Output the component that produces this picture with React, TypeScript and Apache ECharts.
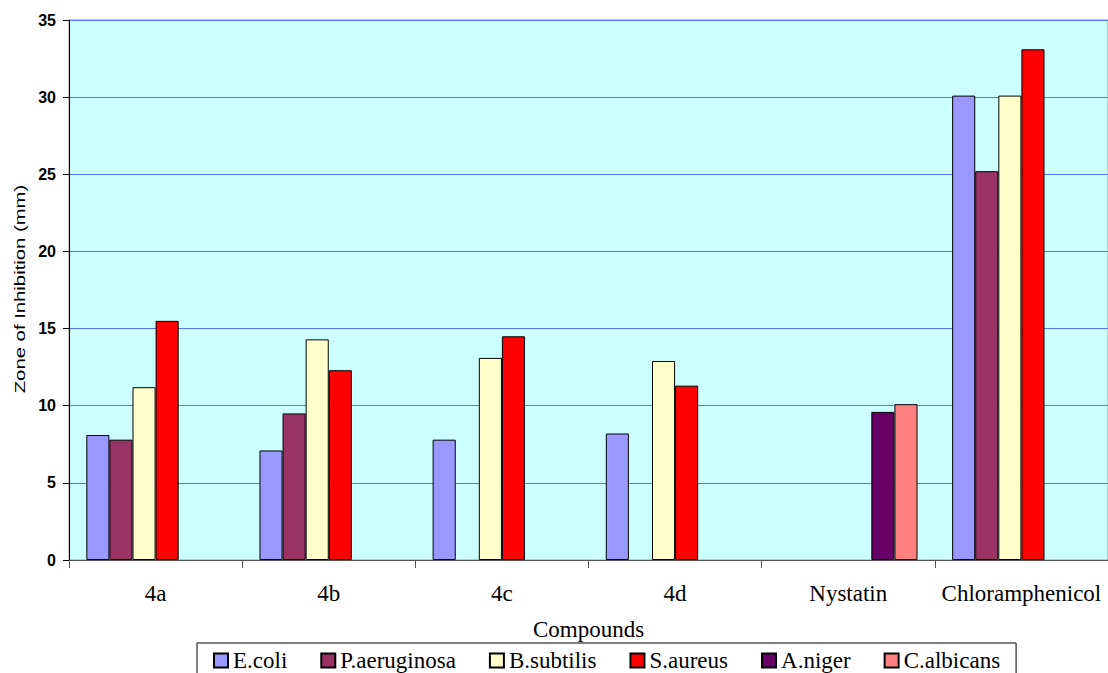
import React, { useEffect, useRef } from "react";
import * as echarts from "echarts";

const categories = ["4a", "4b", "4c", "4d", "Nystatin", "Chloramphenicol"];
const seriesNames = ["E.coli", "P.aeruginosa", "B.subtilis", "S.aureus", "A.niger", "C.albicans"];
const eColi = [8.1, 7.1, 7.8, 8.2, null, 30.1];
const pAeruginosa = [7.8, 9.5, null, null, null, 25.2];
const bSubtilis = [11.2, 14.3, 13.1, 12.9, null, 30.1];
const sAureus = [15.5, 12.3, 14.5, 11.3, null, 33.1];
const aNiger = [null, null, null, null, 9.6, null];
const cAlbicans = [null, null, null, null, 10.1, null];
const colors = ["#9999FF", "#993366", "#FFFFCC", "#FF0000", "#660066", "#FF8080"];
const yTicks = [0, 5, 10, 15, 20, 25, 30, 35];

const SERIF = "'Times New Roman', 'Liberation Serif', serif";
const SANS = "Arial, 'Liberation Sans', sans-serif";

export default function App() {
  const ref = useRef<HTMLDivElement>(null);
  useEffect(() => {
    if (!ref.current) return;
    const chart = echarts.init(ref.current, null, { renderer: "svg" });
    const values = [eColi, pAeruginosa, bSubtilis, sAureus, aNiger, cAlbicans];
    chart.setOption({
      animation: false,
      grid: {
        left: 69,
        right: -1,
        top: 20,
        bottom: 113,
        show: true,
        backgroundColor: "#CCFFFF",
        borderColor: "#999999",
        borderWidth: 1,
      },
      legend: {
        left: 197,
        top: 643,
        width: 823,
        padding: [6, 16, 6, 16],
        borderColor: "#000",
        borderWidth: 1,
        itemWidth: 14,
        itemHeight: 14,
        itemGap: 33,
        icon: "rect",
        textStyle: { fontFamily: SERIF, fontSize: 23, color: "#000" },
        data: seriesNames,
      },
      xAxis: {
        type: "category",
        data: categories,
        name: "Compounds",
        nameLocation: "middle",
        nameGap: 58,
        nameTextStyle: { fontFamily: SERIF, fontSize: 23, color: "#000" },
        axisLine: { lineStyle: { color: "#555", width: 1 } },
        axisTick: { show: true, interval: 0, length: 8, lineStyle: { color: "#555" } },
        axisLabel: { interval: 0, fontFamily: SERIF, fontSize: 23, color: "#000", margin: 22 },
      },
      yAxis: {
        type: "value",
        min: yTicks[0],
        max: yTicks[yTicks.length - 1],
        interval: 5,
        axisLine: { show: true, lineStyle: { color: "#000", width: 1 } },
        axisTick: { show: true, length: 6, lineStyle: { color: "#000" } },
        axisLabel: { fontFamily: SANS, fontWeight: "bold", fontSize: 16, color: "#000", margin: 13 },
        splitLine: { show: true, lineStyle: { color: "#5577FF", width: 1 } },
      },
      graphic: [
        {
          type: "text",
          x: 20,
          y: 289,
          rotation: Math.PI / 2,
          scaleX: 1.45,
          style: {
            text: "Zone of Inhibition (mm)",
            font: "14px Arial, 'Liberation Sans', sans-serif",
            fill: "#000",
            align: "center",
            verticalAlign: "middle",
          },
        },
      ],
      series: seriesNames.map((name, i) => ({
        name,
        type: "bar",
        data: values[i],
        barGap: "0%",
        barCategoryGap: "20%",
        itemStyle: { color: colors[i], borderColor: "#000", borderWidth: 1 },
      })),
    });
    return () => chart.dispose();
  }, []);
  return (
    <div
      ref={ref}
      style={{ position: "absolute", left: 0, top: 0, width: 1108, height: 673 }}
    />
  );
}
